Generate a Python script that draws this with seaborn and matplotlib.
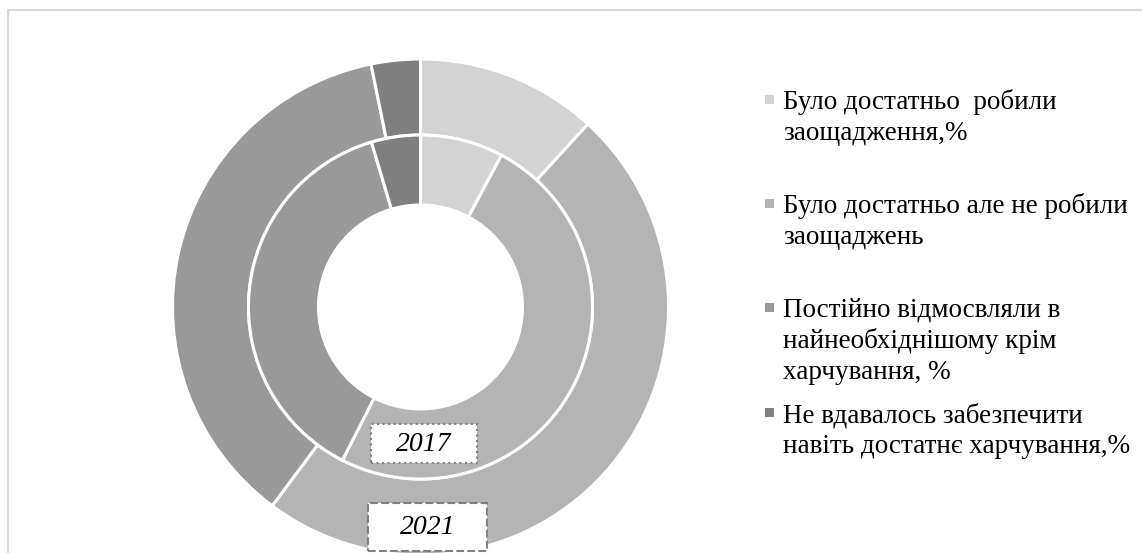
import matplotlib
matplotlib.use("Agg")
import matplotlib.pyplot as plt
import seaborn as sns
from matplotlib.patches import Rectangle

# Дані (частки, %)
categories = [
    "Було достатньо  робили\nзаощадження,%",
    "Було достатньо але не робили\nзаощаджень",
    "Постійно відмосвляли в\nнайнеобхіднішому крім\nхарчування, %",
    "Не вдавалось забезпечити\nнавіть достатнє харчування,%",
]
values_2017 = [7.8, 49.7, 37.9, 4.6]
values_2021 = [11.8, 48.4, 36.6, 3.2]
years = ["2017", "2021"]

sns.set_style("white")
plt.rcParams["font.family"] = ["Liberation Serif", "DejaVu Serif"]
colors = ["#d3d3d3", "#b4b4b4", "#999999", "#7f7f7f"]

W, H = 1142, 553
fig = plt.figure(figsize=(W / 100, H / 100), dpi=100)
ax = fig.add_axes([0, 0, 1, 1])


def py(y):
    # піксельна координата зверху -> координата даних
    return H - y


cx, cy = 420.5, py(307)
r_out, r_mid, r_in = 248, 172, 102

# Зовнішнє кільце - 2021, внутрішнє - 2017
ax.pie(values_2021, colors=colors, radius=r_out, center=(cx, cy),
       startangle=90, counterclock=False,
       wedgeprops=dict(width=r_out - r_mid, edgecolor="white", linewidth=2.2))
ax.pie(values_2017, colors=colors, radius=r_mid, center=(cx, cy),
       startangle=90, counterclock=False,
       wedgeprops=dict(width=r_mid - r_in, edgecolor="white", linewidth=2.2))

ax.set_xlim(0, W)
ax.set_ylim(0, H)
ax.set_aspect("auto")
ax.axis("off")

# Рамка області діаграми (видно лише верхній і лівий край)
ax.plot([8, W], [py(10), py(10)], color="#d9d9d9", lw=1.5, clip_on=False)
ax.plot([8, 8], [py(10), 0], color="#d9d9d9", lw=1.5, clip_on=False)

# Підписи років
boxes = [(370.5, 424, 106, 39, ":"), (368, 503, 119, 48, "--")]
for yr, (x0, y0, w, h, ls) in zip(years, boxes):
    ax.add_patch(Rectangle((x0, py(y0 + h)), w, h, facecolor="white",
                           edgecolor="#808080", lw=1.5, linestyle=ls, zorder=5))
    ax.text(x0 + w / 2, py(y0 + h / 2 + 1), yr, fontsize=20, style="italic",
            ha="center", va="center", color="black", zorder=6)

# Легенда
first_baselines = [109, 213, 317, 422]
for cat, col, b in zip(categories, colors, first_baselines):
    ax.add_patch(Rectangle((765, py(b - 5)), 9, 9, facecolor=col, edgecolor="none"))
    for i, line in enumerate(cat.split("\n")):
        ax.text(783, py(b + i * 30.8), line, fontsize=19.5, ha="left",
                va="baseline", color="black")

fig.savefig("out.png", dpi=100, facecolor="white")
